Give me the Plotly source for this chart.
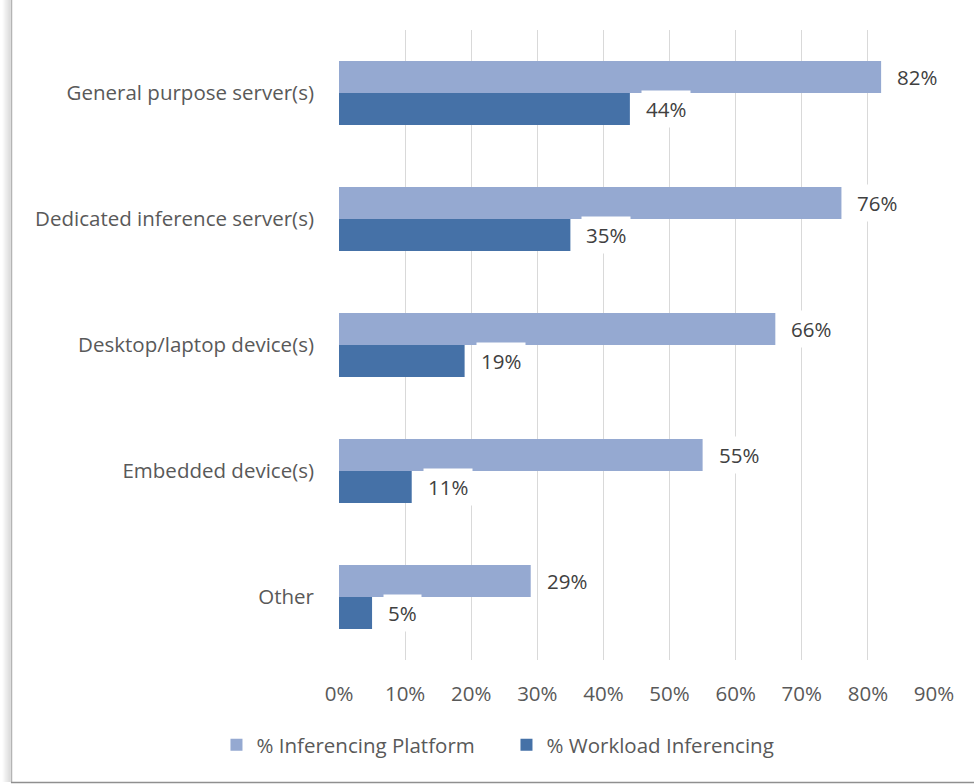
import plotly.graph_objects as go

# ---- data -------------------------------------------------------------
categories = [
    "General purpose server(s)",
    "Dedicated inference server(s)",
    "Desktop/laptop device(s)",
    "Embedded device(s)",
    "Other",
]
platform_pct = [82, 76, 66, 55, 29]
workload_pct = [44, 35, 19, 11, 5]
series_names = ["% Inferencing Platform", "% Workload Inferencing"]
x_tick_vals = [0, 10, 20, 30, 40, 50, 60, 70, 80, 90]
x_tick_text = [f"{v}%" for v in x_tick_vals]

# ---- styling ----------------------------------------------------------
W, H = 974, 784
L, R, T, B = 339, 40, 30, 124
PLOT_W, PLOT_H = W - L - R, H - T - B
LIGHT = "#95A9D1"
DARK = "#4571A7"
FONT = "Open Sans"
FS = 20.5
LABEL_COLOR = "#404040"
TICK_COLOR = "#595959"
BAR_PX = PLOT_H / len(categories) * 0.254  # height of one bar in px


def xp(px):
    """pixel column -> paper x"""
    return (px - L) / PLOT_W


def yp(py):
    """pixel row -> paper y"""
    return (H - B - py) / PLOT_H


fig = go.Figure()
for name, vals, color in [
    (series_names[0], platform_pct, LIGHT),
    (series_names[1], workload_pct, DARK),
]:
    fig.add_trace(
        go.Bar(
            y=categories,
            x=vals,
            name=name,
            orientation="h",
            marker=dict(color=color, line=dict(width=0)),
            hoverinfo="skip",
        )
    )

# value labels on white boxes next to the bar ends
annotations = []
for vals, shift in [(platform_pct, BAR_PX / 2), (workload_pct, -BAR_PX / 2)]:
    for cat, v in zip(categories, vals):
        annotations.append(
            dict(
                x=v,
                y=cat,
                xref="x",
                yref="y",
                text=f"{v}%",
                showarrow=False,
                xanchor="left",
                yanchor="middle",
                xshift=11,
                yshift=shift,
                bgcolor="white",
                borderpad=4,
                font=dict(family=FONT, size=FS, color=LABEL_COLOR),
            )
        )

# chart frame: left edge with soft shadow, bottom edge
shapes = []
for i in range(8):
    px = 3 + i
    shapes.append(
        dict(
            type="line",
            xref="paper",
            yref="paper",
            x0=xp(px),
            x1=xp(px),
            y0=yp(0),
            y1=yp(782),
            line=dict(color=f"rgba(120,120,120,{0.03 + 0.035 * i:.3f})", width=1),
        )
    )
shapes.append(
    dict(
        type="line", xref="paper", yref="paper",
        x0=xp(11.5), x1=xp(11.5), y0=yp(0), y1=yp(782.5),
        line=dict(color="#b4b4b4", width=1.5),
    )
)
shapes.append(
    dict(
        type="line", xref="paper", yref="paper",
        x0=xp(11), x1=xp(W), y0=yp(782.5), y1=yp(782.5),
        line=dict(color="#8f8f8f", width=1.5),
    )
)

fig.update_layout(
    width=W,
    height=H,
    margin=dict(l=L, r=R, t=T, b=B, autoexpand=False),
    paper_bgcolor="white",
    plot_bgcolor="white",
    barmode="group",
    bargap=0.492,
    bargroupgap=0,
    font=dict(family=FONT, color=TICK_COLOR),
    xaxis=dict(
        range=[0, 90],
        tickmode="array",
        tickvals=x_tick_vals,
        ticktext=x_tick_text,
        showgrid=True,
        gridcolor="#d9d9d9",
        gridwidth=1.3,
        zeroline=False,
        showline=False,
        ticks="",
        ticklabelstandoff=19,
        tickfont=dict(family=FONT, size=FS, color=TICK_COLOR),
        fixedrange=True,
    ),
    yaxis=dict(
        autorange="reversed",
        showgrid=False,
        zeroline=False,
        showline=False,
        ticks="",
        ticklabelstandoff=24,
        tickfont=dict(family=FONT, size=FS, color=TICK_COLOR),
        fixedrange=True,
    ),
    legend=dict(
        orientation="h",
        xref="container",
        yref="container",
        x=0.52,
        xanchor="center",
        y=1 - 745 / H,
        yanchor="middle",
        font=dict(family=FONT, size=FS, color=TICK_COLOR),
        traceorder="normal",
        entrywidth=245,
        itemclick=False,
        itemdoubleclick=False,
    ),
    annotations=annotations,
    shapes=shapes,
    showlegend=True,
)

fig.write_html("out.html")
